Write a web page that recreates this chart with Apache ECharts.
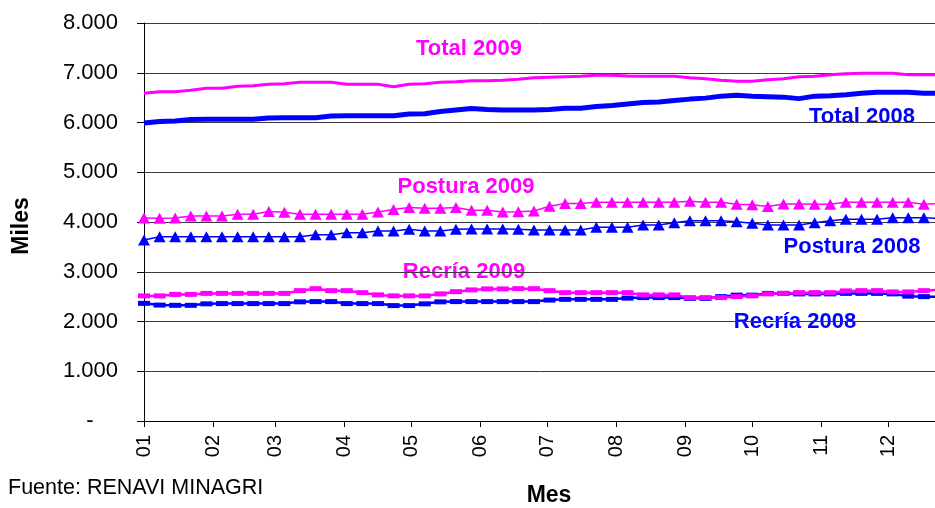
<!DOCTYPE html>
<html>
<head>
<meta charset="utf-8">
<script src="https://cdn.jsdelivr.net/npm/echarts@6/dist/echarts.min.js"></script>
<style>
html,body{margin:0;padding:0;background:#fff;}
#chart{width:935px;height:508px;}
</style>
</head>
<body>
<div id="chart"></div>
<script>
// Weekly dates (x values)
var weeks = ['2009-01-01','2009-01-08','2009-01-15','2009-01-22','2009-01-29',
  '2009-02-05','2009-02-12','2009-02-19','2009-02-26',
  '2009-03-05','2009-03-12','2009-03-19','2009-03-26',
  '2009-04-02','2009-04-09','2009-04-16','2009-04-23','2009-04-30',
  '2009-05-07','2009-05-14','2009-05-21','2009-05-28',
  '2009-06-04','2009-06-11','2009-06-18','2009-06-25',
  '2009-07-02','2009-07-09','2009-07-16','2009-07-23','2009-07-30',
  '2009-08-06','2009-08-13','2009-08-20','2009-08-27',
  '2009-09-03','2009-09-10','2009-09-17','2009-09-24',
  '2009-10-01','2009-10-08','2009-10-15','2009-10-22','2009-10-29',
  '2009-11-05','2009-11-12','2009-11-19','2009-11-26',
  '2009-12-03','2009-12-10','2009-12-17','2009-12-24'];

// Month tick positions and labels
var monthStarts = ['2009-01-01','2009-02-01','2009-03-01','2009-04-01','2009-05-01','2009-06-01',
  '2009-07-01','2009-08-01','2009-09-01','2009-10-01','2009-11-01','2009-12-01'];
var monthLabels = ['01','02','03','04','05','06','07','08','09','10','11','12'];

// Series values (miles)
var total2009 = [6590,6620,6620,6650,6690,6690,6730,6740,6770,6780,6810,6810,6810,6770,6770,6770,6720,6770,6780,6810,
  6820,6840,6840,6850,6870,6900,6910,6920,6930,6950,6950,6935,6930,6930,6930,6900,6880,6850,6830,6830,
  6860,6880,6920,6930,6960,6980,6990,6990,6990,6960,6960,6960];
var total2008 = [5990,6020,6030,6060,6065,6065,6065,6065,6090,6095,6095,6095,6130,6135,6135,6135,6135,6170,6175,6220,
  6250,6280,6260,6250,6250,6250,6260,6285,6285,6320,6340,6370,6400,6410,6440,6470,6490,6530,6550,6530,
  6520,6510,6480,6530,6540,6560,6590,6610,6610,6610,6590,6590];
var postura2009 = [4080,4075,4080,4120,4120,4120,4155,4155,4210,4195,4155,4155,4155,4155,4155,4200,4250,4290,4275,4275,
  4290,4235,4235,4200,4205,4220,4315,4370,4370,4395,4395,4395,4395,4395,4395,4415,4395,4395,4355,4345,
  4310,4360,4360,4355,4355,4395,4395,4395,4395,4395,4355,4375];
var postura2008 = [3640,3705,3705,3705,3705,3705,3705,3705,3705,3705,3705,3745,3745,3785,3785,3820,3820,3855,3820,3820,
  3855,3860,3860,3860,3855,3840,3840,3840,3840,3895,3895,3895,3940,3940,3985,4025,4025,4025,4005,3975,
  3940,3940,3940,3985,4025,4055,4055,4055,4085,4085,4085,4075];
var recria2009 = [2515,2515,2545,2545,2565,2565,2565,2565,2565,2565,2620,2660,2620,2620,2580,2535,2515,2515,2515,2555,
  2600,2635,2655,2655,2660,2660,2620,2580,2580,2580,2580,2580,2535,2535,2535,2480,2480,2480,2500,2515,
  2555,2565,2580,2580,2580,2615,2620,2620,2595,2595,2620,2635];
var recria2008 = [2365,2330,2325,2325,2355,2360,2360,2360,2360,2360,2395,2400,2400,2360,2360,2360,2320,2320,2355,2395,
  2400,2400,2400,2400,2400,2400,2430,2445,2445,2445,2445,2470,2480,2480,2480,2465,2465,2500,2530,2530,
  2565,2565,2555,2555,2555,2565,2565,2565,2555,2510,2500,2500];

var MAG = '#FF00FF', BLU = '#0000FF';
var FONT = "'Liberation Sans', Arial, sans-serif";

function ts(s){ return +echarts.time.parse(s); }
var weekTs = weeks.map(ts);
var monthTs = monthStarts.map(ts);
function pairs(vals){ return weekTs.map(function(t,i){ return [t, vals[i]]; }); }
function fmtY(v){
  if (v === 0) return '-    ';
  var s = String(Math.round(v));
  return s.replace(/\B(?=(\d{3})+(?!\d))/g, '.');
}
function fmtX(v){
  var best = 0, bd = Infinity;
  for (var i = 0; i < monthTs.length; i++) {
    var d = Math.abs(monthTs[i] - v);
    if (d < bd) { bd = d; best = i; }
  }
  return monthLabels[best];
}

var chart = echarts.init(document.getElementById('chart'), null, {renderer:'canvas'});
var option = {
  animation:false,
  backgroundColor:'#fff',
  grid:{left:144, right:0, top:23, bottom:87, containLabel:false},
  xAxis:{
    type:'value',
    min:ts('2009-01-01'),
    max:ts('2009-12-22'),
    axisLine:{show:true, lineStyle:{color:'#000', width:1}},
    axisTick:{show:true, length:6, lineStyle:{color:'#000'}, customValues: monthTs},
    axisLabel:{show:true, rotate:90, margin:14, color:'#000', fontFamily:FONT, fontSize:20,
      customValues: monthTs, hideOverlap:false, formatter:fmtX},
    splitLine:{show:false}
  },
  yAxis:{
    type:'value', min:0, max:8000, interval:1000,
    axisLine:{show:true, lineStyle:{color:'#000', width:1}},
    axisTick:{show:true, length:7, lineStyle:{color:'#000'}},
    axisLabel:{margin:26, color:'#000', fontFamily:FONT, fontSize:22, formatter:fmtY},
    splitLine:{show:true, lineStyle:{color:'#3a3a3a', width:1}}
  },
  series:[
    {name:'Total 2008', type:'line', data:pairs(total2008), showSymbol:false, symbol:'none',
      lineStyle:{color:BLU, width:5}, itemStyle:{color:BLU}},
    {name:'Total 2009', type:'line', data:pairs(total2009), showSymbol:false, symbol:'none',
      lineStyle:{color:MAG, width:3}, itemStyle:{color:MAG}},
    {name:'Postura 2008', type:'line', data:pairs(postura2008), symbol:'triangle', symbolSize:[12,11],
      lineStyle:{color:BLU, width:1.5}, itemStyle:{color:BLU}},
    {name:'Postura 2009', type:'line', data:pairs(postura2009), symbol:'triangle', symbolSize:[12,11],
      lineStyle:{color:MAG, width:1.5}, itemStyle:{color:MAG}},
    {name:'Recría 2008', type:'line', data:pairs(recria2008), symbol:'rect', symbolSize:[12,5],
      lineStyle:{color:BLU, width:2.5}, itemStyle:{color:BLU}},
    {name:'Recría 2009', type:'line', data:pairs(recria2009), symbol:'rect', symbolSize:[12,5],
      lineStyle:{color:MAG, width:2.5}, itemStyle:{color:MAG}}
  ],
  graphic:[
    {type:'text', x:469, y:49, style:{text:'Total 2009', fill:MAG, font:"bold 22px "+FONT, align:'center', verticalAlign:'middle'}},
    {type:'text', x:862, y:117, style:{text:'Total 2008', fill:BLU, font:"bold 22px "+FONT, align:'center', verticalAlign:'middle'}},
    {type:'text', x:466, y:187, style:{text:'Postura 2009', fill:MAG, font:"bold 22px "+FONT, align:'center', verticalAlign:'middle'}},
    {type:'text', x:852, y:247, style:{text:'Postura 2008', fill:BLU, font:"bold 22px "+FONT, align:'center', verticalAlign:'middle'}},
    {type:'text', x:464, y:272, style:{text:'Recría 2009', fill:MAG, font:"bold 22px "+FONT, align:'center', verticalAlign:'middle'}},
    {type:'text', x:795, y:322, style:{text:'Recría 2008', fill:BLU, font:"bold 22px "+FONT, align:'center', verticalAlign:'middle'}},
    {type:'text', x:22, y:226, rotation:Math.PI/2, style:{text:'Miles', fill:'#000', font:"bold 23px "+FONT, align:'center', verticalAlign:'middle'}},
    {type:'text', x:549, y:496, style:{text:'Mes', fill:'#000', font:"bold 23px "+FONT, align:'center', verticalAlign:'middle'}},
    {type:'text', x:8, y:488, style:{text:'Fuente: RENAVI MINAGRI', fill:'#000', font:"21.5px "+FONT, align:'left', verticalAlign:'middle'}}
  ]
};
chart.setOption(option);
</script>
</body>
</html>
